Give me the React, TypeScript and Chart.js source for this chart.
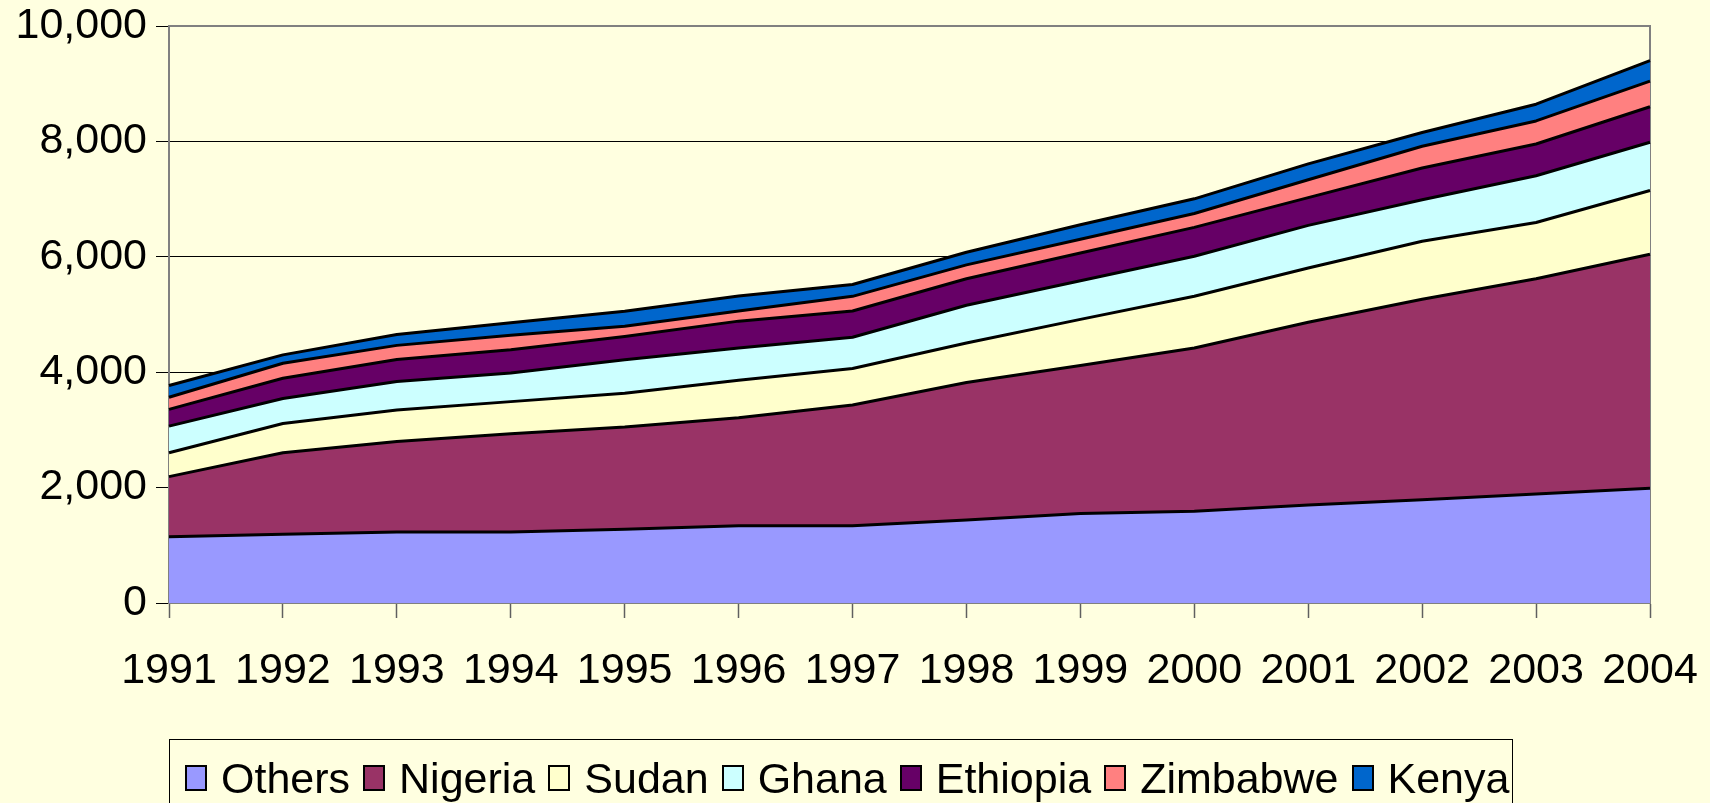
import React, { useEffect, useRef } from "react";
import { Chart, registerables } from "chart.js";

Chart.register(...registerables);

const years = ["1991", "1992", "1993", "1994", "1995", "1996", "1997", "1998", "1999", "2000", "2001", "2002", "2003", "2004"];
const others = [1150, 1190, 1230, 1230, 1280, 1340, 1340, 1440, 1550, 1590, 1700, 1790, 1890, 1990];
const nigeria = [1040, 1415, 1570, 1705, 1770, 1870, 2090, 2380, 2565, 2830, 3165, 3475, 3730, 4055];
const sudan = [415, 505, 545, 555, 585, 650, 635, 685, 800, 895, 940, 1005, 975, 1105];
const ghana = [460, 435, 495, 495, 580, 560, 540, 655, 670, 695, 740, 720, 810, 835];
const ethiopia = [290, 350, 380, 405, 405, 465, 455, 460, 480, 500, 480, 550, 550, 615];
const zimbabwe = [210, 260, 245, 250, 175, 175, 255, 240, 240, 240, 310, 375, 400, 445];
const kenya = [205, 145, 190, 215, 260, 260, 205, 220, 250, 255, 275, 240, 290, 355];

const seriesNames = ["Others", "Nigeria", "Sudan", "Ghana", "Ethiopia", "Zimbabwe", "Kenya"];
const seriesData = [others, nigeria, sudan, ghana, ethiopia, zimbabwe, kenya];
const seriesColors = ["#9999FF", "#993366", "#FFFFCC", "#CCFFFF", "#660066", "#FF8080", "#0066CC"];
const yTicks = [0, 2000, 4000, 6000, 8000, 10000];

const FONT = '"Liberation Sans", Arial, sans-serif';
const BG = "#FFFFE0";

const plotBorder = {
  id: "plotBorder",
  beforeDatasetsDraw(chart: any) {
    const { ctx, chartArea } = chart;
    ctx.save();
    ctx.strokeStyle = "#808080";
    ctx.lineWidth = 2;
    ctx.strokeRect(chartArea.left, chartArea.top, chartArea.right - chartArea.left, chartArea.bottom - chartArea.top);
    ctx.restore();
  },
};

export default function App() {
  const canvasRef = useRef<HTMLCanvasElement | null>(null);

  useEffect(() => {
    const canvas = canvasRef.current;
    if (!canvas) return;
    const chart = new Chart(canvas, {
      type: "line",
      data: {
        labels: years,
        datasets: seriesNames.map((name, i) => ({
          label: name,
          data: seriesData[i],
          backgroundColor: seriesColors[i],
          borderColor: "#000000",
          borderWidth: 3,
          borderJoinStyle: "round" as const,
          fill: i === 0 ? "origin" : "-1",
          pointRadius: 0,
          pointHoverRadius: 0,
          tension: 0,
        })),
      },
      options: {
        responsive: false,
        animation: false,
        devicePixelRatio: 1,
        layout: { padding: { top: 26, right: 60, bottom: 0, left: 0 } },
        plugins: {
          legend: { display: false },
          tooltip: { enabled: false },
        },
        scales: {
          x: {
            type: "category",
            offset: false,
            afterFit: (scale: any) => {
              scale.height = 200;
              scale.paddingLeft = 0;
              scale.paddingRight = 0;
            },
            grid: {
              display: true,
              drawOnChartArea: false,
              drawTicks: true,
              tickLength: 15,
              tickColor: "#606060",
              tickWidth: 1.5,
              offset: false,
            },
            border: { display: true, color: "#808080", width: 2 },
            ticks: {
              autoSkip: false,
              maxRotation: 0,
              minRotation: 0,
              padding: 27,
              color: "#000000",
              font: { family: FONT, size: 43 },
            },
          },
          y: {
            stacked: true,
            min: 0,
            max: 10000,
            afterFit: (scale: any) => {
              scale.width = 169;
              scale.paddingTop = 0;
              scale.paddingBottom = 0;
            },
            afterBuildTicks: (scale: any) => {
              scale.ticks = yTicks.map((v) => ({ value: v }));
            },
            grid: {
              display: true,
              drawOnChartArea: true,
              drawTicks: true,
              tickLength: 13,
              color: (ctx: any) => (ctx.tick && (ctx.tick.value === 10000 || ctx.tick.value === 0) ? "rgba(0,0,0,0)" : "#000000"),
              tickColor: "#000000",
              lineWidth: 1,
            },
            border: { display: true, color: "#808080", width: 2 },
            ticks: {
              padding: 9,
              color: "#000000",
              font: { family: FONT, size: 43 },
              callback: (v: any) => Number(v).toLocaleString("en-US"),
            },
          },
        },
      },
      plugins: [plotBorder],
    });
    return () => chart.destroy();
  }, []);

  return (
    <div
      style={{
        position: "absolute",
        left: 0,
        top: 0,
        width: 1710,
        height: 803,
        overflow: "hidden",
        background: BG,
      }}
    >
      <canvas ref={canvasRef} width={1710} height={803} style={{ position: "absolute", left: 0, top: 0, width: 1710, height: 803 }} />
      <div
        style={{
          position: "absolute",
          left: 169,
          top: 739,
          width: 1344,
          height: 90,
          border: "1px solid #000000",
          boxSizing: "border-box",
          display: "flex",
          flexDirection: "row",
          alignItems: "flex-start",
          paddingLeft: 15,
          paddingTop: 17,
          fontFamily: FONT,
          fontSize: 43,
          lineHeight: "43px",
          color: "#000000",
          whiteSpace: "nowrap",
        }}
      >
        {seriesNames.map((name, i) => (
          <div key={name} style={{ display: "flex", alignItems: "flex-start", marginRight: 13 }}>
            <span
              style={{
                display: "inline-block",
                width: 22,
                height: 26,
                boxSizing: "border-box",
                border: "2px solid #000000",
                background: seriesColors[i],
                marginTop: 8,
                marginRight: 14,
              }}
            />
            <span>{name}</span>
          </div>
        ))}
      </div>
    </div>
  );
}
